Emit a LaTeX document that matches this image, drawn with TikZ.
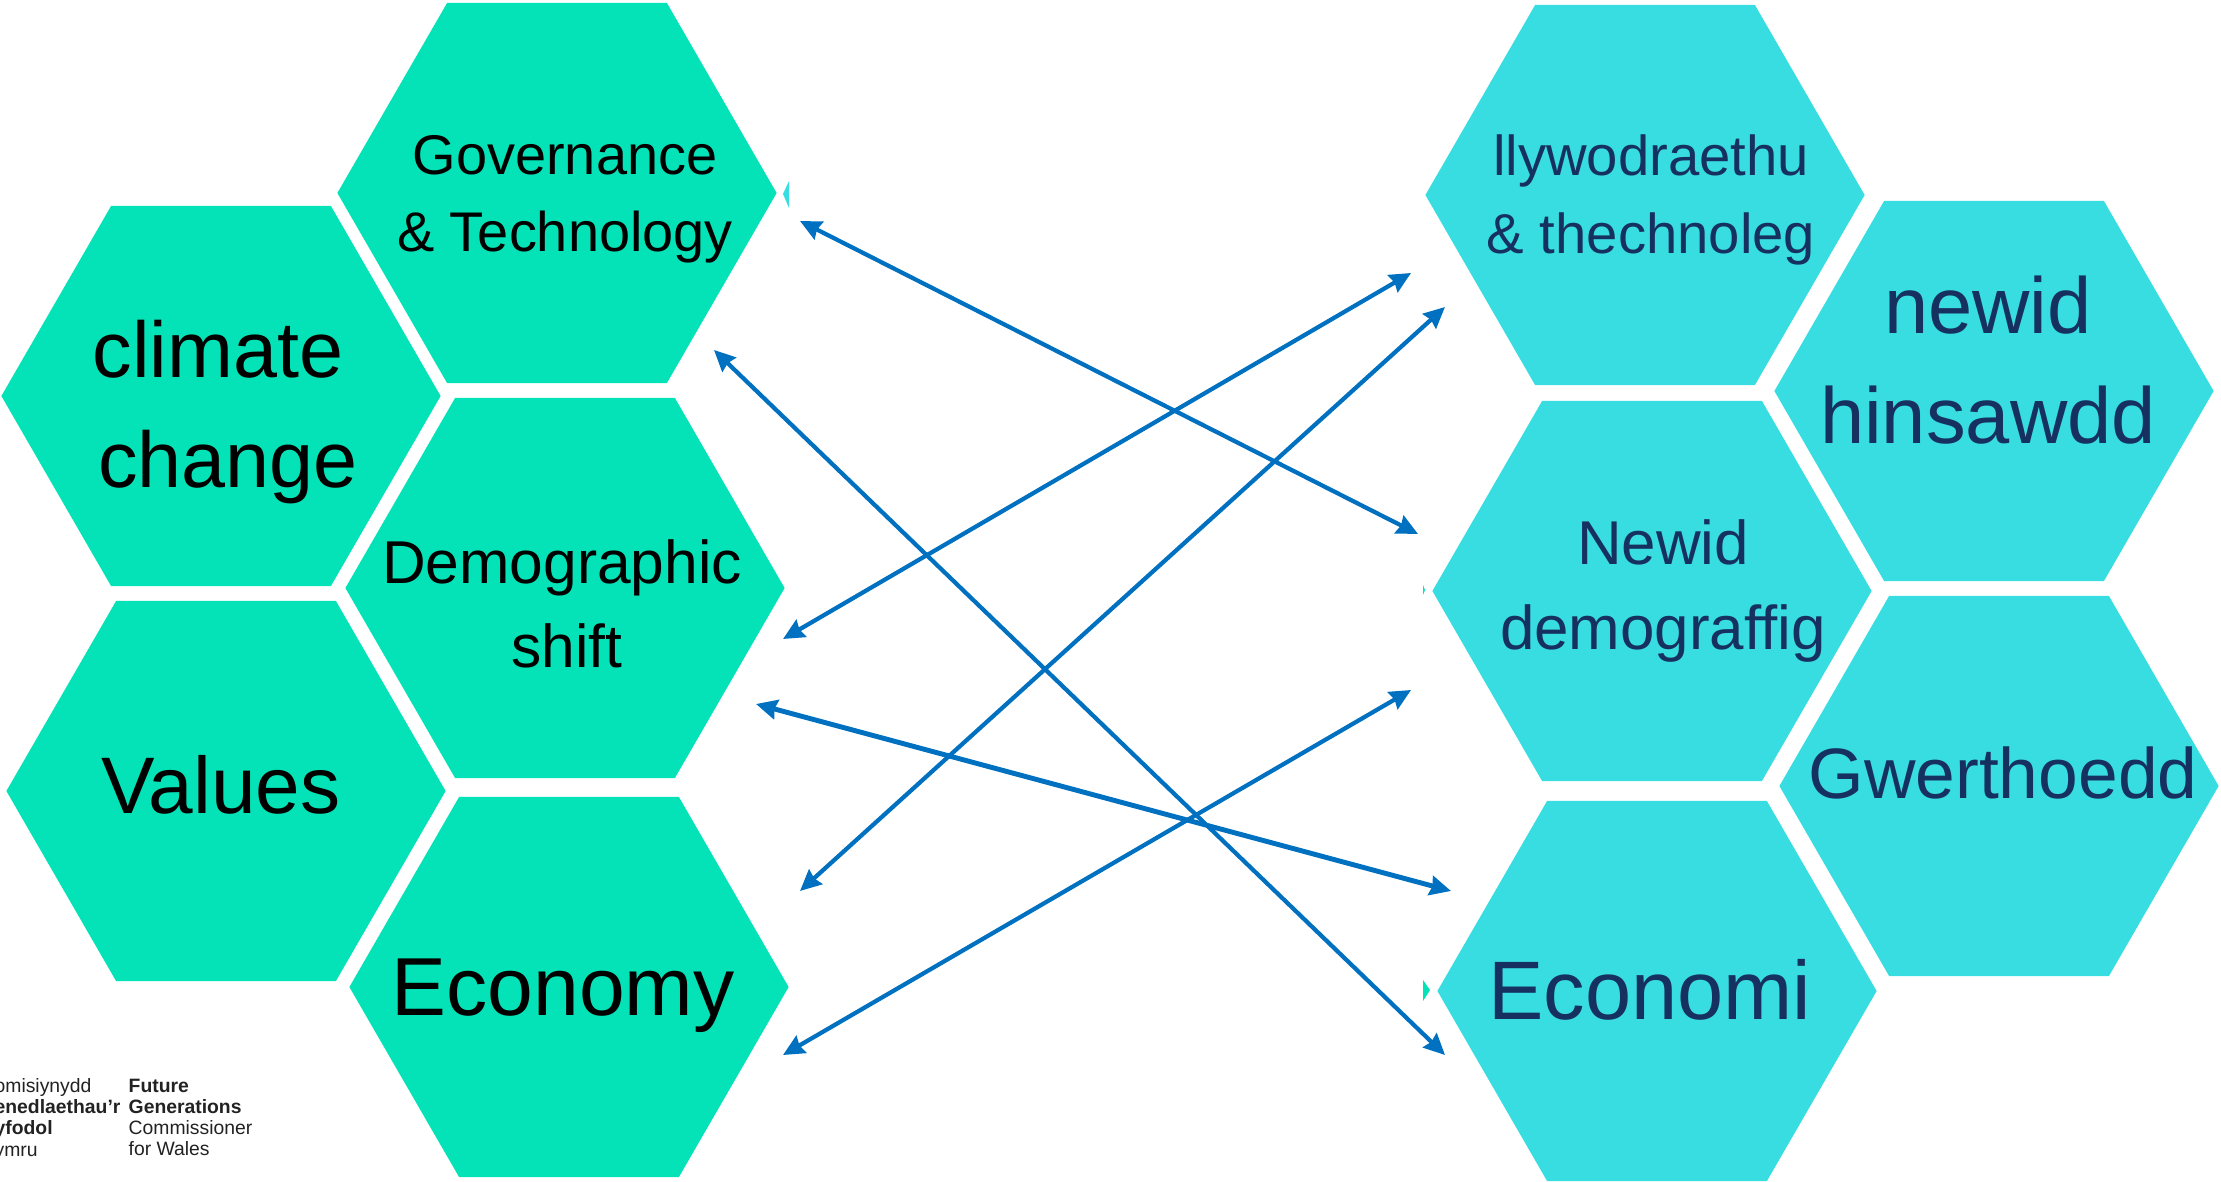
\documentclass[tikz,border=0pt]{standalone}
\usepackage{fontspec}
\setmainfont{Liberation Sans}
\usetikzlibrary{shapes.geometric}
\usetikzlibrary{arrows.meta}
\definecolor{hexgreen}{HTML}{04E3B7}
\definecolor{hexcyan}{HTML}{38DDE2}
\definecolor{linkblue}{HTML}{0070C0}
\definecolor{navytext}{HTML}{16315F}
\definecolor{logotext}{HTML}{222222}
\tikzstyle{hex}=[regular polygon, regular polygon sides=6, minimum size=4.39cm, inner sep=0pt, outer sep=0pt]
\tikzstyle{ghex}=[hex, fill=hexgreen]
\tikzstyle{chex}=[hex, fill=hexcyan]
\tikzstyle{htext}=[align=center, inner sep=0pt, text=black]
\tikzstyle{ctext}=[htext, text=navytext]
\tikzstyle{logo}=[align=left, anchor=north west, inner sep=0pt, text=logotext, font=\fontsize{5.5}{6}\selectfont]
\tikzstyle{link}=[draw=linkblue, line width=1.2pt, {Stealth[length=6pt,width=5.6pt,inset=0.6pt]}-{Stealth[length=6pt,width=5.6pt,inset=0.6pt]}]
\begin{document}
\begin{tikzpicture}[x=0.01cm, y=-0.01cm]
        \useasboundingbox (0, 0) rectangle (2221, 1182);
        \node[ghex] (gov) at (557, 193) {};
        \node[ghex] (climate) at (221, 396) {};
        \node[ghex] (demo) at (565, 588) {};
        \node[ghex] (values) at (226, 791) {};
        \node[ghex] (econ) at (569, 987) {};
        \node[chex] (llyw) at (1645, 195) {};
        \node[chex] (hins) at (1994, 391) {};
        \node[chex] (newid) at (1652, 591) {};
        \node[chex] (gwerth) at (1999, 786) {};
        \node[chex] (economi) at (1657, 991) {};
        \fill[hexcyan] (783, 194) -- (789, 181) -- (789, 208) -- cycle;
        \fill[hexgreen] (1425, 590) -- (1423, 585) -- (1423, 595) -- cycle;
        \fill[hexgreen] (1430, 990) -- (1423, 980) -- (1423, 1001) -- cycle;
        \node[htext, font=\fontsize{15.9}{22}\selectfont] (govtext) at (565, 199) {Governance\\ \& Technology};
        \node[htext, font=\fontsize{22.5}{31.5}\selectfont] (climatetext) at (218, 412) {climate\\ \hspace*{0.2cm}change};
        \node[htext, font=\fontsize{17.2}{24}\selectfont] (demotext) at (562, 604) {Demographic\\ \hspace*{0.1cm}shift};
        \node[htext, font=\fontsize{22.8}{27}\selectfont] (valuestext) at (221, 785) {Values};
        \node[htext, font=\fontsize{23.4}{28}\selectfont] (econtext) at (563, 996) {Economy};
        \node[ctext, font=\fontsize{16}{22}\selectfont] (llywtext) at (1651, 200) {llywodraethu\\ \& thechnoleg};
        \node[ctext, font=\fontsize{22.6}{31.5}\selectfont] (hinstext) at (1988, 360) {newid\\ hinsawdd};
        \node[ctext, font=\fontsize{17.6}{24}\selectfont] (newidtext) at (1663, 591) {Newid\\ demograffig};
        \node[ctext, font=\fontsize{20.3}{24}\selectfont] (gwerthtext) at (2003, 773) {Gwerthoedd};
        \node[ctext, font=\fontsize{23.6}{28}\selectfont] (economitext) at (1650, 990) {Economi};
        \coordinate (govend) at (800, 221);
        \coordinate (newidin) at (1418, 534);
        \coordinate (demoend) at (783, 639);
        \coordinate (llywin) at (1411, 273);
        \coordinate (econtop) at (800, 891);
        \coordinate (llywlow) at (1445, 307);
        \coordinate (govlow) at (714, 350);
        \coordinate (economilow) at (1445, 1055);
        \coordinate (demolow) at (756, 704);
        \coordinate (economitop) at (1451, 891);
        \coordinate (econlow) at (783, 1055);
        \coordinate (newidlow) at (1411, 690);
        \draw[link] (govend) -- (newidin);
        \draw[link] (demoend) -- (llywin);
        \draw[link] (econtop) -- (llywlow);
        \draw[link] (govlow) -- (economilow);
        \draw[link, line width=1.4pt] (demolow) -- (economitop);
        \draw[link] (econlow) -- (newidlow);
        \node[logo] (logocy) at (-20, 1078) {Comisiynydd\\ \textbf{Cenedlaethau’r}\\ \textbf{Dyfodol}\\ Cymru};
        \node[logo] (logoen) at (128, 1078) {\textbf{Future}\\ \textbf{Generations}\\ Commissioner\\ for Wales};
    \end{tikzpicture}
\end{document}
